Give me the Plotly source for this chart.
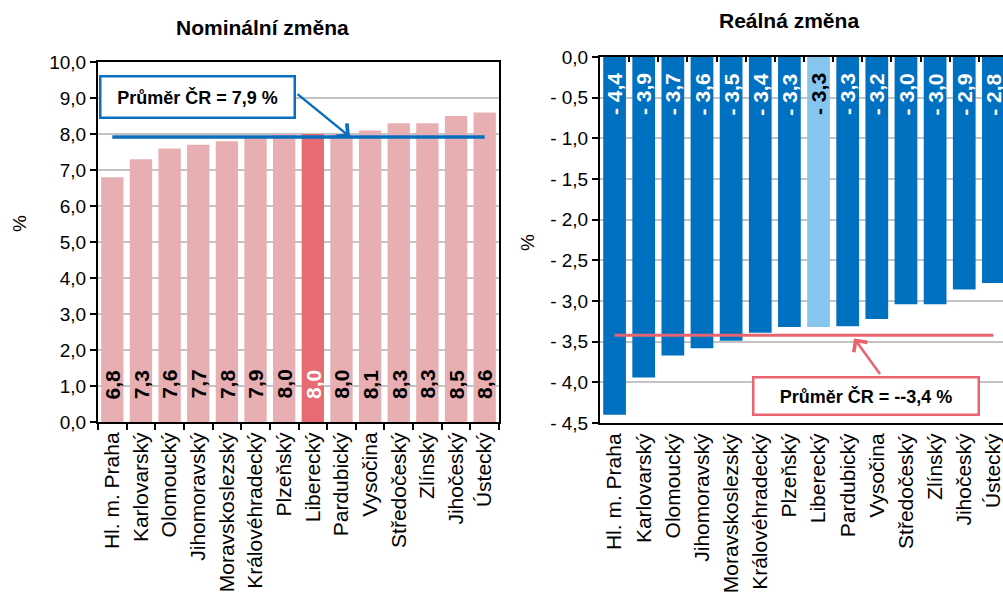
import plotly.graph_objects as go

# ---------------- data ----------------
regions = ["Hl. m. Praha", "Karlovarský", "Olomoucký", "Jihomoravský", "Moravskoslezský",
           "Královéhradecký", "Plzeňský", "Liberecký", "Pardubický", "Vysočina",
           "Středočeský", "Zlínský", "Jihočeský", "Ústecký"]
regions_real = ["Hl. m. Praha", "Karlovarský", "Olomoucký", "Jihomoravský", "Moravskoslezský",
                "Královéhradecký", "Plzeňský", "Liberecký", "Pardubický", "Vysočina",
                "Středočeský", "Zlínský", "Jihočeský", "Ústecký"]
nominal = [6.8, 7.3, 7.6, 7.7, 7.8, 7.9, 8.0, 8.0, 8.0, 8.1, 8.3, 8.3, 8.5, 8.6]
real = [-4.40, -3.94, -3.67, -3.58, -3.49, -3.39, -3.32, -3.32, -3.31, -3.22, -3.04, -3.04, -2.86, -2.78]
avg_nominal = 7.92
avg_real = -3.42
highlight = "Liberecký"

y1_ticks = [0, 1, 2, 3, 4, 5, 6, 7, 8, 9, 10]
y1_text = ["0,0", "1,0", "2,0", "3,0", "4,0", "5,0", "6,0", "7,0", "8,0", "9,0", "10,0"]
y2_ticks = [0, -0.5, -1, -1.5, -2, -2.5, -3, -3.5, -4, -4.5]
y2_text = ["0,0", "- 0,5", "- 1,0", "- 1,5", "- 2,0", "- 2,5", "- 3,0", "- 3,5", "- 4,0", "- 4,5"]

title_left = "Nominální změna"
title_right = "Reálná změna"
avg_text_left = "Průměr ČR = 7,9 %"
avg_text_right = "Průměr ČR = --3,4 %"

# ---------------- styles ----------------
FONT = "Liberation Sans, Arial, sans-serif"
PINK = "#E8AFB3"
RED = "#E76B73"
BLUE = "#0070C0"
LBLUE = "#86C6EE"
LINE_BLUE = "#0A6EBD"
LINE_RED = "#E8656F"
GRID = "#C4C4C4"

W, H = 1003, 596

def fmt_nom(v):
    return f"{v:.1f}".replace(".", ",")

def fmt_real(v):
    return "- " + f"{abs(v):.1f}".replace(".", ",")

fig = go.Figure()

fig.add_trace(go.Bar(
    x=regions, y=nominal, xaxis="x", yaxis="y",
    marker=dict(color=[RED if r == highlight else PINK for r in regions], line=dict(width=0)),
    hoverinfo="skip", showlegend=False))
fig.add_trace(go.Scatter(
    x=regions, y=[avg_nominal] * len(regions), xaxis="x", yaxis="y", mode="lines",
    line=dict(color=LINE_BLUE, width=3.5), hoverinfo="skip", showlegend=False))

fig.add_trace(go.Bar(
    x=regions_real, y=real, xaxis="x2", yaxis="y2",
    marker=dict(color=[LBLUE if r == highlight else BLUE for r in regions_real], line=dict(width=0)),
    hoverinfo="skip", showlegend=False))
fig.add_trace(go.Scatter(
    x=regions_real, y=[avg_real] * len(regions_real), xaxis="x2", yaxis="y2", mode="lines",
    line=dict(color=LINE_RED, width=3), hoverinfo="skip", showlegend=False))
# empty trace so that the top category axis of the right chart is drawn
fig.add_trace(go.Scatter(x=[], y=[], xaxis="x3", yaxis="y2", showlegend=False, hoverinfo="skip"))

def px_x(p):
    return p / W

def px_y(p):
    return 1 - p / H

n = len(regions)
axis_common = dict(showline=True, linecolor="black", linewidth=2, zeroline=False, automargin=False)

fig.update_layout(
    width=W, height=H,
    margin=dict(l=0, r=0, t=0, b=0, autoexpand=False),
    paper_bgcolor="white", plot_bgcolor="white",
    font=dict(family=FONT, color="black"),
    bargap=0.22,
    showlegend=False,
    xaxis=dict(domain=[px_x(98), px_x(499)], anchor="y", type="category",
               range=[-0.5, n - 0.5], tickson="boundaries", ticks="outside", ticklen=6,
               tickwidth=2, tickcolor="black", mirror=True, tickangle=-90,
               tickfont=dict(size=21, family=FONT), showgrid=False, **axis_common),
    yaxis=dict(domain=[px_y(422), px_y(62)], anchor="x", range=[0, 10],
               tickvals=y1_ticks, ticktext=y1_text, ticks="outside", ticklen=6, tickwidth=2,
               tickcolor="black", mirror=True, showgrid=True, gridcolor=GRID, gridwidth=1.5,
               tickfont=dict(size=19, family=FONT), **axis_common),
    xaxis2=dict(domain=[px_x(600), 1.0], anchor="y2", type="category",
                range=[-0.5, 13.33], ticks="", tickangle=-90,
                tickfont=dict(size=21, family=FONT), showgrid=False, **axis_common),
    xaxis3=dict(overlaying="x2", anchor="y2", side="top", type="linear",
                range=[-0.5, 13.33], tickvals=[i - 0.5 for i in range(n + 1)],
                ticks="inside", ticklen=5, tickwidth=2, tickcolor="black",
                showticklabels=False, showgrid=False, **axis_common),
    yaxis2=dict(domain=[px_y(423), px_y(57)], anchor="x2", range=[-4.5, 0],
                tickvals=y2_ticks, ticktext=y2_text, ticks="outside", ticklen=6, tickwidth=2,
                tickcolor="black", showgrid=True, gridcolor=GRID, gridwidth=1.5,
                tickfont=dict(size=19, family=FONT), **axis_common),
)

C = dict(xanchor="center", yanchor="middle", xref="paper", yref="paper", showarrow=False)
ann = []
# titles
ann.append(dict(text=f"<b>{title_left}</b>", x=px_x(262), y=px_y(27),
                font=dict(size=21, family=FONT), **C))
ann.append(dict(text=f"<b>{title_right}</b>", x=px_x(789), y=px_y(21),
                font=dict(size=21, family=FONT), **C))
# axis titles
ann.append(dict(text="%", x=px_x(19), y=px_y(224), textangle=-90,
                font=dict(size=19, family=FONT), **C))
ann.append(dict(text="%", x=px_x(528), y=px_y(243), textangle=-90,
                font=dict(size=19, family=FONT), **C))

# data labels
for r, v in zip(regions, nominal):
    ann.append(dict(text=f"<b>{fmt_nom(v)}</b>", x=r, y=1.05, xref="x", yref="y", textangle=-90,
                    showarrow=False, xanchor="center", yanchor="middle",
                    font=dict(size=21, family=FONT, color="white" if r == highlight else "black")))
for r, v in zip(regions_real, real):
    ann.append(dict(text=f"<b>{fmt_real(v)}</b>", x=r, y=-0.46, xref="x2", yref="y2", textangle=-90,
                    showarrow=False, xanchor="center", yanchor="middle",
                    font=dict(size=21, family=FONT, color="black" if r == highlight else "white")))

# average boxes
ann.append(dict(text=f"<b>{avg_text_left}</b>", x=px_x(197.5), y=px_y(96.5),
                font=dict(size=18, family=FONT), bgcolor="white",
                bordercolor=LINE_BLUE, borderwidth=2.5, borderpad=1, width=190, height=37, **C))
ann.append(dict(text="", x=8.30, y=avg_nominal, xref="x", yref="y", ax=-54, ay=-44,
                showarrow=True, arrowhead=4, arrowsize=1.3, arrowwidth=2.5, arrowcolor=LINE_BLUE))
ann.append(dict(text=f"<b>{avg_text_right}</b>", x=px_x(866), y=px_y(396),
                font=dict(size=18, family=FONT), bgcolor="white",
                bordercolor=LINE_RED, borderwidth=2.5, borderpad=1, width=221, height=33, **C))
ann.append(dict(text="", x=8.22, y=-3.46, xref="x2", yref="y2", ax=27, ay=37,
                showarrow=True, arrowhead=4, arrowsize=1.3, arrowwidth=2.5, arrowcolor=LINE_RED))

fig.update_layout(annotations=ann)

fig.write_html("out.html", config={"displayModeBar": False},
               post_script="document.body.style.margin='0';document.body.style.overflow='hidden';")
